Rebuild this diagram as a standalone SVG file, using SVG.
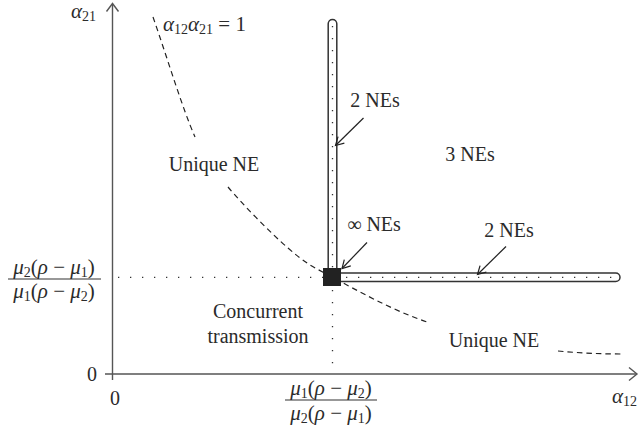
<svg xmlns="http://www.w3.org/2000/svg" width="641" height="440" viewBox="0 0 641 440">
<style>
text{font-family:"Liberation Serif","Times New Roman",serif;font-size:20px;fill:#2b2b2b}
.i{font-style:italic}
.sub{font-size:14px;font-style:normal}
.m{font-size:21px}
.axis{stroke:#555;stroke-width:1.4;fill:none}
.curve{stroke:#222;stroke-width:1.2;fill:none;stroke-dasharray:5.5,4}
.guide{stroke:#333;stroke-width:1.3;fill:none;stroke-dasharray:1.3,10.7}
.bar{fill:#fff;stroke:#333;stroke-width:1.5}
.arr{stroke:#222;stroke-width:1.2;fill:none;marker-end:url(#ah)}
</style>
<defs>
<marker id="ah" markerWidth="12" markerHeight="12" refX="9" refY="5" orient="auto" markerUnits="userSpaceOnUse">
<path d="M1,0.5 L9,5 L1,9.5" fill="none" stroke="#222" stroke-width="1.2"/>
</marker>
</defs>
<g id="axes">
<line class="axis" x1="105" y1="374" x2="637" y2="374"/>
<path class="axis" d="M629,367.5 L637,374 L629,380.5"/>
<line class="axis" x1="112.5" y1="380" x2="112.5" y2="4"/>
<path class="axis" d="M106.5,11.5 L112.5,3.5 L118.5,11.5"/>
</g>
<g id="curve">
<path class="curve" d="M153,17 C167,57 182.5,108.7 195,137"/>
<path class="curve" d="M228,187 C243.5,205.5 270.7,233 288,248 C305.3,263 308.3,264.5 332,277 C355.7,289.5 392.3,310.7 430,323"/>
<path class="curve" d="M558,351 Q590,354 623,354"/>
</g>
<g id="guides">
<line class="guide" x1="118" y1="277.3" x2="323" y2="277.3"/>
<line class="guide" x1="332.5" y1="290" x2="332.5" y2="374"/>
</g>
<g id="region-2NEs-vertical">
<rect class="bar" x="328.2" y="19.5" width="8.6" height="258" rx="4.3"/>
<line class="guide" x1="332.5" y1="26" x2="332.5" y2="268"/>
</g>
<g id="region-2NEs-horizontal">
<rect class="bar" x="330" y="273" width="290" height="8.6" rx="4.3"/>
<line class="guide" x1="346" y1="277.3" x2="616" y2="277.3"/>
</g>
<g id="point-inf">
<rect x="323" y="268" width="18" height="18" fill="#222"/>
</g>
<g id="connectors">
<line class="arr" x1="363.5" y1="118" x2="335.5" y2="145.5"/>
<line class="arr" x1="367" y1="242.5" x2="342" y2="268.5"/>
<line class="arr" x1="506" y1="246.5" x2="477.5" y2="274.5"/>
</g>
<g id="labels">
<text x="71" y="18" class="i m">α<tspan class="sub" dy="3">21</tspan></text>
<text x="163" y="31" class="m"><tspan class="i">α</tspan><tspan class="sub" dy="3">12</tspan><tspan class="i" dy="-3">α</tspan><tspan class="sub" dy="3">21</tspan><tspan dy="-3"> = 1</tspan></text>
<text x="214" y="171" text-anchor="middle">Unique NE</text>
<text x="375" y="107" text-anchor="middle">2 NEs</text>
<text x="470" y="161" text-anchor="middle">3 NEs</text>
<text x="374" y="231" text-anchor="middle">∞ NEs</text>
<text x="509" y="237" text-anchor="middle">2 NEs</text>
<text x="258" y="318" text-anchor="middle">Concurrent</text>
<text x="258" y="343" text-anchor="middle">transmission</text>
<text x="494" y="347" text-anchor="middle">Unique NE</text>
<text x="92" y="381" text-anchor="middle">0</text>
<text x="115" y="405" text-anchor="middle">0</text>
<text x="612" y="403" class="i m">α<tspan class="sub" dy="3">12</tspan></text>
<text x="54" y="274" text-anchor="middle" class="m"><tspan class="i">μ</tspan><tspan class="sub" dy="3">2</tspan><tspan dy="-3">(</tspan><tspan class="i">ρ</tspan> − <tspan class="i">μ</tspan><tspan class="sub" dy="3">1</tspan><tspan dy="-3">)</tspan></text>
<line x1="8" y1="279" x2="101" y2="279" stroke="#333" stroke-width="1.2"/>
<text x="54" y="298" text-anchor="middle" class="m"><tspan class="i">μ</tspan><tspan class="sub" dy="3">1</tspan><tspan dy="-3">(</tspan><tspan class="i">ρ</tspan> − <tspan class="i">μ</tspan><tspan class="sub" dy="3">2</tspan><tspan dy="-3">)</tspan></text>
<text x="331" y="395" text-anchor="middle" class="m"><tspan class="i">μ</tspan><tspan class="sub" dy="3">1</tspan><tspan dy="-3">(</tspan><tspan class="i">ρ</tspan> − <tspan class="i">μ</tspan><tspan class="sub" dy="3">2</tspan><tspan dy="-3">)</tspan></text>
<line x1="285" y1="400" x2="377" y2="400" stroke="#333" stroke-width="1.2"/>
<text x="331" y="420" text-anchor="middle" class="m"><tspan class="i">μ</tspan><tspan class="sub" dy="3">2</tspan><tspan dy="-3">(</tspan><tspan class="i">ρ</tspan> − <tspan class="i">μ</tspan><tspan class="sub" dy="3">1</tspan><tspan dy="-3">)</tspan></text>
</g>
</svg>
